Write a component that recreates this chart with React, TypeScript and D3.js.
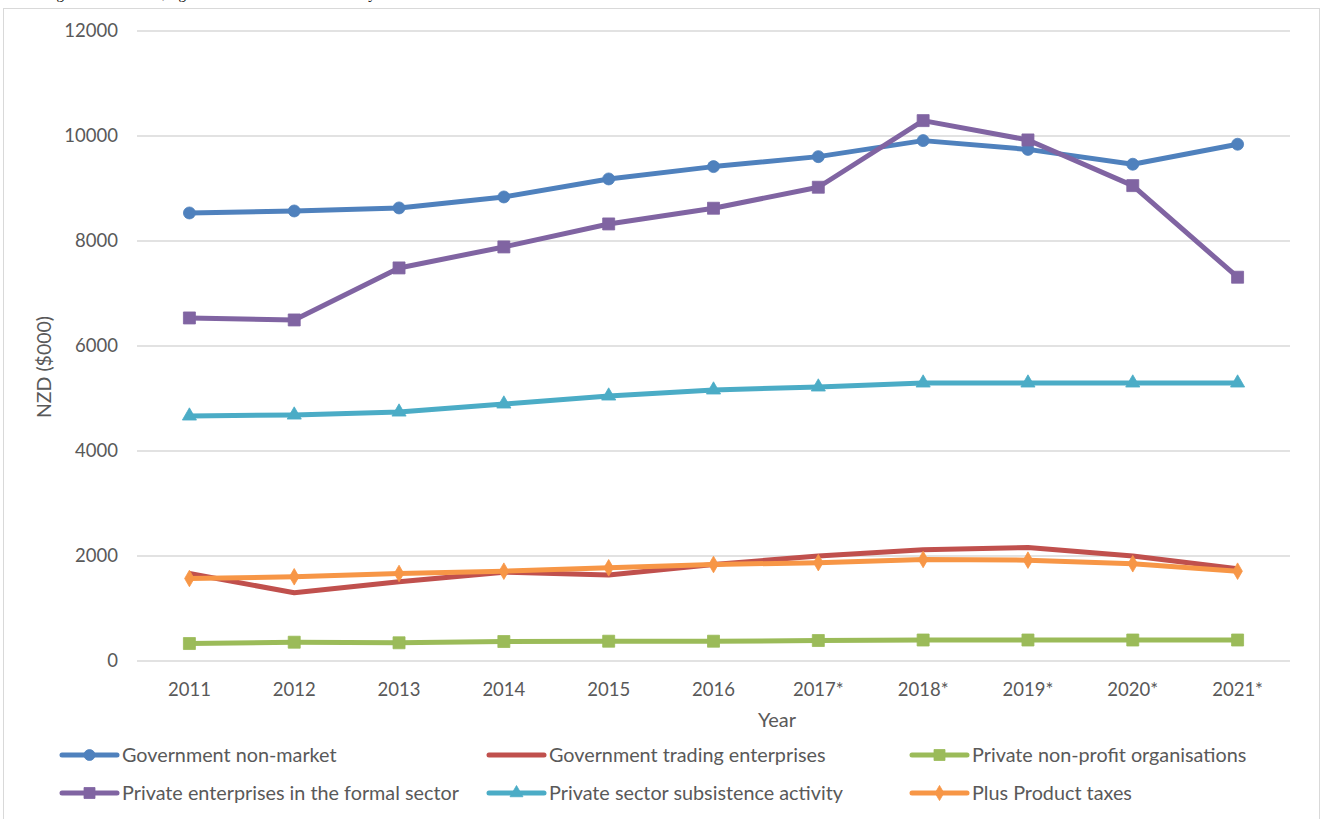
import React from "react";
import * as d3 from "d3";

const years = ["2011", "2012", "2013", "2014", "2015", "2016", "2017*", "2018*", "2019*", "2020*", "2021*"];
const govNonMarket = [8534, 8572, 8630, 8839, 9182, 9417, 9607, 9912, 9745, 9462, 9843];
const govTrading = [1667, 1299, 1510, 1692, 1640, 1838, 2000, 2120, 2160, 2000, 1756];
const privateNonProfit = [333, 358, 347, 371, 377, 377, 390, 400, 400, 400, 400];
const privateFormal = [6534, 6496, 7487, 7887, 8325, 8624, 9024, 10293, 9925, 9055, 7310];
const subsistence = [4667, 4686, 4743, 4896, 5048, 5163, 5220, 5296, 5296, 5296, 5296];
const productTaxes = [1572, 1604, 1667, 1711, 1775, 1838, 1873, 1934, 1921, 1852, 1711];
const yTicks = [0, 2000, 4000, 6000, 8000, 10000, 12000];

type Marker = "circle" | "none" | "square" | "triangle" | "diamond";
const seriesList: { name: string; values: number[]; color: string; marker: Marker }[] = [
  { name: "Government non-market", values: govNonMarket, color: "#4F81BD", marker: "circle" },
  { name: "Government trading enterprises", values: govTrading, color: "#C0504D", marker: "none" },
  { name: "Private non-profit organisations", values: privateNonProfit, color: "#9BBB59", marker: "square" },
  { name: "Private enterprises in the formal sector", values: privateFormal, color: "#8064A2", marker: "square" },
  { name: "Private sector subsistence activity", values: subsistence, color: "#4BACC6", marker: "triangle" },
  { name: "Plus Product taxes", values: productTaxes, color: "#F79646", marker: "diamond" },
];

const W = 1330;
const H = 819;
const plot = { left: 137, right: 1290, top: 31, bottom: 661 };
const FONT = "Lato, 'Noto Sans', sans-serif";

function MarkerShape({ type, x, y, color, size }: { type: Marker; x: number; y: number; color: string; size: number }) {
  if (type === "none") return null;
  const symType =
    type === "circle" ? d3.symbolCircle : type === "square" ? d3.symbolSquare : type === "triangle" ? d3.symbolTriangle : d3.symbolDiamond;
  const area = type === "circle" ? Math.PI * (size / 2) ** 2 : type === "diamond" ? size * size * 0.55 : type === "triangle" ? size * size * 0.6 : size * size;
  const d = d3.symbol().type(symType).size(area)() || "";
  return <path d={d} transform={`translate(${x},${y})`} fill={color} stroke={color} strokeWidth={0.8} />;
}

export default function App() {
  const x = d3.scalePoint<string>().domain(years).range([plot.left, plot.right]).padding(0.5);
  const y = d3.scaleLinear().domain([0, 12000]).range([plot.bottom, plot.top]);
  const line = d3
    .line<number>()
    .x((_, i) => x(years[i]) as number)
    .y((v) => y(v));

  const legendCols = [62, 489, 912];
  const legendRows = [755, 793];

  return (
    <svg width={W} height={H} style={{ position: "absolute", left: 0, top: 0, background: "#fff" }}>
      <rect x={0} y={0} width={W} height={H} fill="#fff" />
      <text x={44} y={-1} fontFamily="'Liberation Serif', 'Times New Roman', serif" fontSize={15} fill="#000">
        Figure 5: Real GDP, figures at 2016 Constant Prices by sector 2011 - 2021
      </text>
      <rect x={3.5} y={8.5} width={1316} height={830} fill="none" stroke="#d9d9d9" strokeWidth={1} />
      {yTicks.map((t) => (
        <g key={t}>
          <line x1={plot.left} x2={plot.right} y1={y(t)} y2={y(t)} stroke="#d9d9d9" strokeWidth={1.3} />
          <text x={118} y={y(t)} dy="0.35em" textAnchor="end" fontFamily={FONT} fontSize={18.5} fill="#595959">
            {t}
          </text>
        </g>
      ))}
      {years.map((yr) => (
        <text key={yr} x={x(yr)} y={696} textAnchor="middle" fontFamily={FONT} fontSize={18.5} fill="#595959">
          {yr}
        </text>
      ))}
      <text x={777} y={727} textAnchor="middle" fontFamily={FONT} fontSize={20} fill="#595959">
        Year
      </text>
      <text
        transform={`translate(51,367) rotate(-90)`}
        textAnchor="middle"
        fontFamily={FONT}
        fontSize={19.5}
        fill="#595959"
      >
        NZD ($000)
      </text>
      {seriesList.map((s) => (
        <g key={s.name}>
          <path d={line(s.values) || ""} fill="none" stroke={s.color} strokeWidth={5} strokeLinejoin="round" />
          {s.values.map((v, i) => (
            <MarkerShape key={i} type={s.marker} x={x(years[i]) as number} y={y(v)} color={s.color} size={12} />
          ))}
        </g>
      ))}
      {seriesList.map((s, i) => {
        const cx = legendCols[i % 3];
        const cy = legendRows[Math.floor(i / 3)];
        return (
          <g key={s.name}>
            <line x1={cx} x2={cx + 55} y1={cy} y2={cy} stroke={s.color} strokeWidth={5} strokeLinecap="round" />
            <MarkerShape type={s.marker} x={cx + 27.5} y={cy} color={s.color} size={11} />
            <text x={cx + 60} y={cy} dy="0.35em" fontFamily={FONT} fontSize={19.8} fill="#595959">
              {s.name}
            </text>
          </g>
        );
      })}
    </svg>
  );
}
